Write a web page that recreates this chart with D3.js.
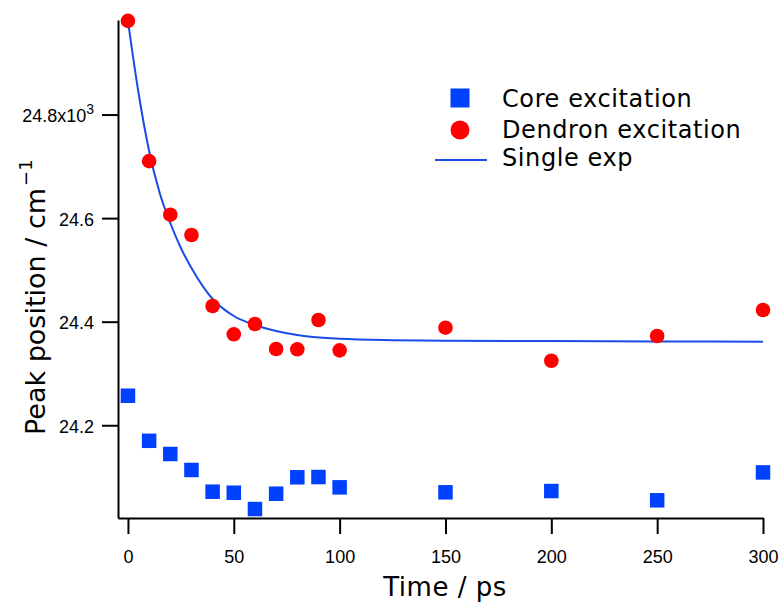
<!DOCTYPE html>
<html>
<head>
<meta charset="utf-8">
<script src="https://cdn.jsdelivr.net/npm/d3@7"></script>
<style>
  html, body { margin: 0; padding: 0; background: #fff; }
  svg { display: block; }
</style>
</head>
<body>
<svg id="chart" width="781" height="602"></svg>
<script>
// ---- Data ----
const times = [0, 10, 20, 30, 40, 50, 60, 70, 80, 90, 100, 150, 200, 250, 300];
const coreValues = [24.257, 24.170, 24.1445, 24.1136, 24.0717, 24.0697, 24.0382, 24.0678, 24.0995, 24.100, 24.0801, 24.0705, 24.073, 24.0551, 24.1089];
const dendronValues = [24.981, 24.710, 24.6066, 24.5674, 24.4303, 24.3756, 24.3955, 24.3472, 24.3467, 24.4032, 24.3447, 24.3884, 24.3246, 24.3723, 24.4226];
// Single-exponential fit curve
const fitTimes = [0, 5, 10, 15, 20, 25, 30, 40, 50, 60, 70, 80, 100, 125, 150, 200, 250, 300];
const fitValues = [24.9807, 24.8416, 24.7296, 24.6485, 24.5906, 24.5423, 24.5037, 24.4438, 24.4110, 24.3936, 24.3820, 24.3743, 24.3669, 24.3642, 24.3633, 24.3625, 24.3619, 24.3613];
const xTicks = [0, 50, 100, 150, 200, 250, 300];
const yTicks = [24.2, 24.4, 24.6, 24.8];
const legendLabels = ["Core excitation", "Dendron excitation", "Single exp"];

const colors = { core: "#0040ff", dendron: "#ff0000", fit: "#1a4be8" };

const svg = d3.select("#chart");

const x = d3.scaleLinear().domain([-4.7, 300]).range([118, 763]);
const y = d3.scaleLinear().domain([24.0209, 24.9826]).range([518, 20]);

const tickFont = "'Liberation Sans', Arial, sans-serif";
const labelFont = "'DejaVu Sans', sans-serif";

// X axis
const xAxis = svg.append("g")
  .attr("transform", "translate(0,518)")
  .call(d3.axisBottom(x).tickValues(xTicks).tickSize(16).tickSizeOuter(0).tickPadding(16).tickFormat(d3.format("d")));
// Y axis
const yAxis = svg.append("g")
  .attr("transform", "translate(118,0)")
  .call(d3.axisLeft(y).tickValues(yTicks).tickSize(16).tickSizeOuter(0).tickPadding(8).tickFormat(d3.format(".1f")));

[xAxis, yAxis].forEach(g => {
  g.select(".domain").attr("stroke", "#000").attr("stroke-width", 2);
  g.selectAll(".tick line").attr("stroke", "#000").attr("stroke-width", 2);
  g.selectAll(".tick text").attr("fill", "#000").style("font-family", tickFont).style("font-size", "18px");
});
yAxis.selectAll(".tick text").attr("dy", "0.4em");

// 24.8x10^3 label
yAxis.selectAll(".tick text").filter(d => Math.abs(d - 24.8) < 1e-9)
  .text(null)
  .call(t => {
    t.append("tspan").text("24.8x10");
    t.append("tspan").attr("dy", "-0.6em").style("font-size", "14px").text("3");
  });

// Fit line
svg.append("path")
  .datum(fitTimes.map((t, i) => [t, fitValues[i]]))
  .attr("fill", "none")
  .attr("stroke", colors.fit)
  .attr("stroke-width", 2)
  .attr("d", d3.line().x(d => x(d[0])).y(d => y(d[1])).curve(d3.curveMonotoneX));

// Core squares
const sq = 14.5;
svg.append("g").selectAll("rect")
  .data(times.map((t, i) => [t, coreValues[i]]))
  .join("rect")
  .attr("x", d => x(d[0]) - sq / 2)
  .attr("y", d => y(d[1]) - sq / 2)
  .attr("width", sq).attr("height", sq)
  .attr("fill", colors.core);

// Dendron circles
svg.append("g").selectAll("circle")
  .data(times.map((t, i) => [t, dendronValues[i]]))
  .join("circle")
  .attr("cx", d => x(d[0]))
  .attr("cy", d => y(d[1]))
  .attr("r", 7.3)
  .attr("fill", colors.dendron);

// Legend
const lg = svg.append("g");
const lsq = 19;
lg.append("rect").attr("x", 460 - lsq / 2).attr("y", 98 - lsq / 2).attr("width", lsq).attr("height", lsq).attr("fill", colors.core);
lg.append("circle").attr("cx", 460).attr("cy", 130).attr("r", 9.5).attr("fill", colors.dendron);
lg.append("line").attr("x1", 435).attr("x2", 487).attr("y1", 160).attr("y2", 160).attr("stroke", colors.fit).attr("stroke-width", 2);
const legendY = [107, 138, 166];
lg.selectAll("text").data(legendLabels).join("text")
  .attr("x", 502)
  .attr("y", (d, i) => legendY[i])
  .style("font-family", labelFont)
  .style("font-size", "24px")
  .style("letter-spacing", "0.6px")
  .attr("fill", "#000")
  .text(d => d);

// Axis titles
svg.append("text")
  .attr("x", 445).attr("y", 596)
  .attr("text-anchor", "middle")
  .style("font-family", labelFont)
  .style("font-size", "26px")
  .style("letter-spacing", "0.5px")
  .attr("fill", "#000")
  .text("Time / ps");

const yl = svg.append("text")
  .attr("transform", "translate(45,435) rotate(-90)")
  .attr("text-anchor", "start")
  .style("font-family", labelFont)
  .style("font-size", "27px")
  .attr("fill", "#000");
yl.append("tspan").text("Peak position / cm");
yl.append("tspan").attr("dx", "2").attr("dy", "-0.7em").style("font-size", "18px").text("−1");
</script>
</body>
</html>
